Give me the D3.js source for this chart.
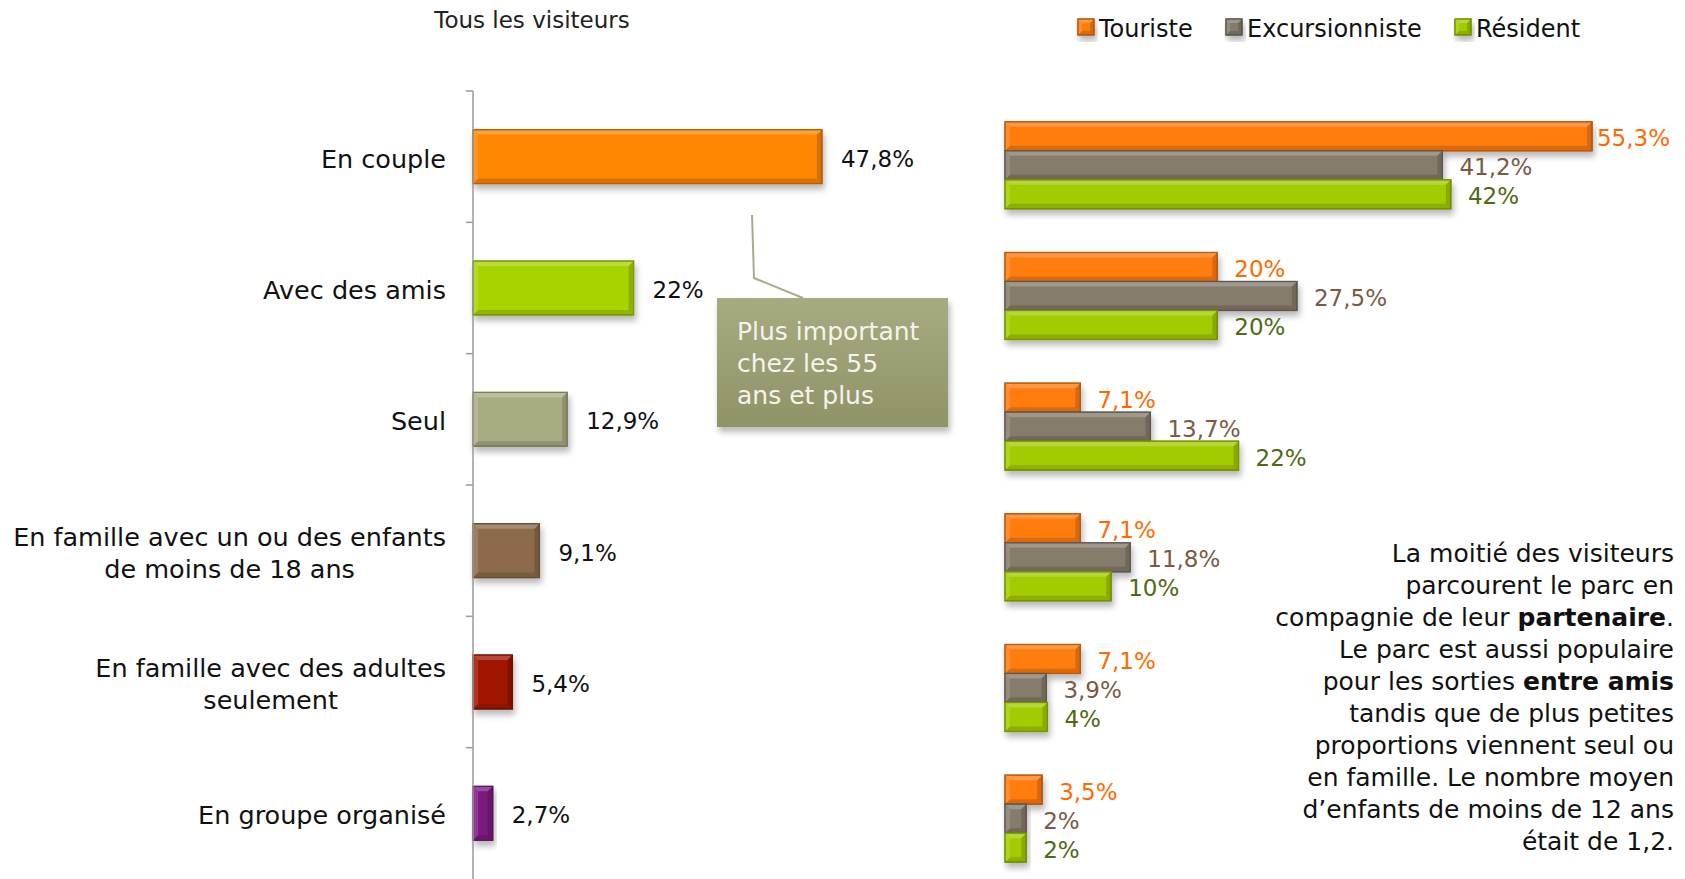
<!DOCTYPE html>
<html>
<head>
<meta charset="utf-8">
<script src="https://cdn.jsdelivr.net/npm/d3@7/dist/d3.min.js"></script>
<style>
  html, body { margin: 0; padding: 0; background: #ffffff; }
  svg { display: block; }
  text { font-family: "DejaVu Sans", sans-serif; }
</style>
</head>
<body>
<svg id="chart" width="1685" height="879"></svg>
<script>
// ---------- DATA ----------
const categories = ["En couple", "Avec des amis", "Seul",
  "En famille avec un ou des enfants de moins de 18 ans",
  "En famille avec des adultes seulement", "En groupe organisé"];
const categoryLines = [["En couple"], ["Avec des amis"], ["Seul"],
  ["En famille avec un ou des enfants", "de moins de 18 ans"],
  ["En famille avec des adultes", "seulement"], ["En groupe organisé"]];
const allVisitors = [47.8, 22, 12.9, 9.1, 5.4, 2.7];
const seriesNames = ["Touriste", "Excursionniste", "Résident"];
const touriste = [55.3, 20, 7.1, 7.1, 7.1, 3.5];
const excursionniste = [41.2, 27.5, 13.7, 11.8, 3.9, 2];
const resident = [42, 20, 22, 10, 4, 2];
const leftTitle = "Tous les visiteurs";
const calloutLines = ["Plus important", "chez les 55", "ans et plus"];
const paragraph = [
  [["La moitié des visiteurs", false]],
  [["parcourent le parc en", false]],
  [["compagnie de leur ", false], ["partenaire", true], [".", false]],
  [["Le parc est aussi populaire", false]],
  [["pour les sorties ", false], ["entre amis", true]],
  [["tandis que de plus petites", false]],
  [["proportions viennent seul ou", false]],
  [["en famille. Le nombre moyen", false]],
  [["d’enfants de moins de 12 ans", false]],
  [["était de 1,2.", false]]
];

// ---------- STYLE ----------
const leftColors = ["#ff8600", "#a9d300", "#a9ac82", "#8c6b4b", "#a01500", "#7d1a80"];
const seriesColors = ["#ff7c10", "#857b6c", "#a3cc00"];
const seriesLabelColors = ["#ff6a00", "#7b5a44", "#4f6a12"];

const svg = d3.select("#chart");
const defs = svg.append("defs");

const shadow = defs.append("filter").attr("id", "shadow")
  .attr("x", "-10%").attr("y", "-20%").attr("width", "130%").attr("height", "160%");
shadow.append("feDropShadow").attr("dx", 2).attr("dy", 5).attr("stdDeviation", 3)
  .attr("flood-color", "#000").attr("flood-opacity", 0.28);

function bevelBar(g, x, y, w, h, color) {
  const grp = g.append("g").attr("filter", "url(#shadow)");
  grp.append("rect").attr("x", x).attr("y", y).attr("width", w).attr("height", h)
    .attr("fill", color).attr("stroke", d3.color(color).darker(0.9)).attr("stroke-width", 1.2);
  const e = Math.min(5, w / 4, h / 4);
  grp.append("polygon").attr("points", [[x, y], [x + w, y], [x + w - e, y + e], [x + e, y + e]].join(" "))
    .attr("fill", "#fff").attr("opacity", 0.22);
  grp.append("polygon").attr("points", [[x, y], [x + e, y + e], [x + e, y + h - e], [x, y + h]].join(" "))
    .attr("fill", "#fff").attr("opacity", 0.14);
  grp.append("polygon").attr("points", [[x, y + h], [x + e, y + h - e], [x + w - e, y + h - e], [x + w, y + h]].join(" "))
    .attr("fill", "#000").attr("opacity", 0.14);
  grp.append("polygon").attr("points", [[x + w, y], [x + w, y + h], [x + w - e, y + h - e], [x + w - e, y + e]].join(" "))
    .attr("fill", "#000").attr("opacity", 0.16);
  grp.append("rect").attr("x", x).attr("y", y).attr("width", w).attr("height", h)
    .attr("fill", "none").attr("stroke", d3.color(color).darker(0.9)).attr("stroke-width", 1.2);
}
const fmt = v => String(v).replace(".", ",") + "%";

// ---------- LEFT CHART ----------
const xL = d3.scaleLinear().domain([0, 60]).range([473, 911]);
const yL = d3.scaleBand().domain(categories).range([91, 879]).paddingInner(0.59).paddingOuter(0.295);
const yTicks = d3.scaleBand().domain(categories).range([91, 879]);

svg.append("text").attr("x", 532).attr("y", 21).attr("text-anchor", "middle")
  .attr("dominant-baseline", "middle").attr("font-size", 23).attr("fill", "#222").text(leftTitle);

const leftG = svg.append("g");
categories.forEach((c, i) => {
  bevelBar(leftG, xL(0), yL(c), xL(allVisitors[i]) - xL(0), yL.bandwidth(), leftColors[i]);
  leftG.append("text").attr("x", xL(allVisitors[i]) + 19).attr("y", yL(c) + yL.bandwidth() / 2 + 2)
    .attr("dominant-baseline", "central").attr("font-size", 23).attr("fill", "#111").text(fmt(allVisitors[i]));
});

const axisG = svg.append("g");
axisG.append("line").attr("x1", xL(0)).attr("x2", xL(0)).attr("y1", 91).attr("y2", 879)
  .attr("stroke", "#9a9a9a").attr("stroke-width", 1.5);
categories.forEach(c => {
  axisG.append("line").attr("x1", xL(0) - 7).attr("x2", xL(0)).attr("y1", yTicks(c)).attr("y2", yTicks(c))
    .attr("stroke", "#9a9a9a").attr("stroke-width", 1.5);
});

categories.forEach((c, i) => {
  const lines = categoryLines[i];
  const cy = yL(c) + yL.bandwidth() / 2 + 2;
  const lh = 32;
  const tg = svg.append("g");
  const texts = lines.map((l, j) => tg.append("text")
    .attr("y", cy + (j - (lines.length - 1) / 2) * lh)
    .attr("dominant-baseline", "central").attr("text-anchor", "middle")
    .attr("font-size", 25.5).attr("fill", "#111").text(l));
  const maxW = d3.max(texts, t => t.node().getComputedTextLength());
  texts.forEach(t => t.attr("x", 446 - maxW / 2));
});

// ---------- CALLOUT ----------
const cg = svg.append("g");
cg.append("polyline").attr("points", "752,215 754,278 803,298").attr("fill", "none")
  .attr("stroke", "#a9ab88").attr("stroke-width", 2);
const cgrad = defs.append("linearGradient").attr("id", "callGrad").attr("x1", 0).attr("y1", 0).attr("x2", 0).attr("y2", 1);
cgrad.append("stop").attr("offset", 0).attr("stop-color", "#a8aa80");
cgrad.append("stop").attr("offset", 1).attr("stop-color", "#909366");
cg.append("rect").attr("x", 717).attr("y", 298).attr("width", 231).attr("height", 129)
  .attr("fill", "url(#callGrad)").attr("filter", "url(#shadow)");
calloutLines.forEach((l, j) => {
  cg.append("text").attr("x", 737).attr("y", 331 + j * 32).attr("dominant-baseline", "central")
    .attr("font-size", 25).attr("fill", "#f4f4ec").text(l);
});

// ---------- RIGHT CHART ----------
const xR = d3.scaleLinear().domain([0, 60]).range([1005, 1642]);
const yR = d3.scaleBand().domain(categories).range([100, 884]).paddingInner(0.334).paddingOuter(0.167);
const ySub = d3.scaleBand().domain(seriesNames).range([0, yR.bandwidth()]);
const seriesData = [touriste, excursionniste, resident];

const rightG = svg.append("g");
categories.forEach((c, i) => {
  seriesNames.forEach((s, k) => {
    const v = seriesData[k][i];
    bevelBar(rightG, xR(0), yR(c) + ySub(s), xR(v) - xR(0), ySub.bandwidth(), seriesColors[k]);
  });
});
categories.forEach((c, i) => {
  seriesNames.forEach((s, k) => {
    const v = seriesData[k][i];
    const t = rightG.append("text").attr("y", yR(c) + ySub(s) + ySub.bandwidth() / 2 + 2)
      .attr("dominant-baseline", "central").attr("font-size", 23)
      .attr("fill", seriesLabelColors[k]).text(fmt(v));
    const w = t.node().getComputedTextLength();
    let x = xR(v) + 17;
    if (x + w > 1670) x = 1670 - w;
    t.attr("x", x);
  });
});

const legendX = [1078, 1226, 1455];
seriesNames.forEach((s, k) => {
  const lg = svg.append("g");
  bevelBar(lg, legendX[k], 19, 16, 16, seriesColors[k]);
  lg.append("text").attr("x", legendX[k] + 21).attr("y", 29).attr("dominant-baseline", "central")
    .attr("font-size", 24).attr("fill", "#111").text(s);
});

// ---------- PARAGRAPH ----------
paragraph.forEach((line, j) => {
  const t = svg.append("text").attr("x", 1674).attr("y", 553 + j * 32)
    .attr("text-anchor", "end").attr("dominant-baseline", "central")
    .attr("font-size", 25).attr("fill", "#111");
  line.forEach(seg => t.append("tspan").attr("font-weight", seg[1] ? "bold" : "normal").text(seg[0]));
});
</script>
</body>
</html>
